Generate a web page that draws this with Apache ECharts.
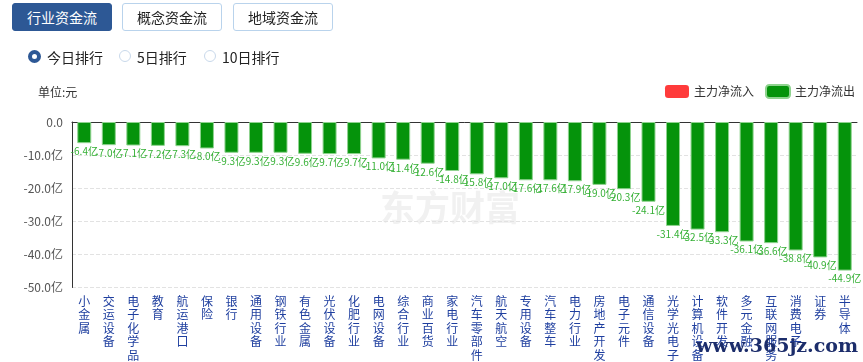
<!DOCTYPE html>
<html>
<head>
<meta charset="utf-8">
<script src="https://cdn.jsdelivr.net/npm/echarts@6/dist/echarts.min.js"></script>
<style>
  html, body { margin:0; padding:0; background:#fff; }
  body { width:863px; height:362px; position:relative; overflow:hidden; font-family:"Noto Sans CJK SC","Noto Sans",sans-serif; }
  #chart { position:absolute; left:0; top:0; width:863px; height:362px; }
  .btn { position:absolute; top:3px; height:26px; line-height:26px; width:98px; text-align:center; font-size:14px; color:#222; border:1px solid #b9d3ec; border-radius:3px; background:#fff; box-sizing:content-box; z-index:2; }
  .btn.active { background:#2d5895; color:#fff; border-color:#2d5895; }
  .radio { position:absolute; top:49px; height:16px; line-height:16px; font-size:14px; color:#222; z-index:2; }
  .dot { position:absolute; top:1px; width:10px; height:10px; border-radius:50%; border:1px solid #c8d8ea; background:#fff; }
  .dot.on { border:4px solid #2d5895; width:5px; height:5px; background:#fff; top:1px; }
</style>
</head>
<body>
<div id="chart"></div>
<div class="btn active" style="left:12px;">行业资金流</div>
<div class="btn" style="left:122px;">概念资金流</div>
<div class="btn" style="left:233px;">地域资金流</div>
<div class="radio" style="left:28px;"><span class="dot on" style="left:0;"></span><span style="position:absolute;left:19px;white-space:nowrap;">今日排行</span></div>
<div class="radio" style="left:119px;"><span class="dot" style="left:0;"></span><span style="position:absolute;left:18px;white-space:nowrap;">5日排行</span></div>
<div class="radio" style="left:204px;"><span class="dot" style="left:0;"></span><span style="position:absolute;left:18px;white-space:nowrap;">10日排行</span></div>
<script>
const categories = ['小金属','交运设备','电子化学品','教育','航运港口','保险','银行','通用设备','钢铁行业','有色金属','光伏设备','化肥行业','电网设备','综合行业','商业百货','家电行业','汽车零部件','航天航空','专用设备','汽车整车','电力行业','房地产开发','电子元件','通信设备','光学光电子','计算机设备','软件开发','多元金融','互联网服务','消费电子','证券','半导体'];
const outflow = [-6.4,-7.0,-7.1,-7.2,-7.3,-8.0,-9.3,-9.3,-9.3,-9.6,-9.7,-9.7,-11.0,-11.4,-12.6,-14.8,-15.8,-17.0,-17.6,-17.6,-17.9,-19.0,-20.3,-24.1,-31.4,-32.5,-33.3,-36.1,-36.6,-38.8,-40.9,-44.9];
const inflow = categories.map(() => null);
const seriesNames = ['主力净流入','主力净流出'];
const yTicks = { min:-50, max:0, interval:10 };

const chart = echarts.init(document.getElementById('chart'));
const font = '"Noto Sans CJK SC","Noto Sans",sans-serif';
chart.setOption({
  animation:false,
  textStyle:{ fontFamily:font },
  grid:{ left:72, right:6, top:122, bottom:73, containLabel:false },
  legend:{
    right:3, top:79, itemWidth:24, itemHeight:13, itemGap:11, icon:'roundRect',
    textStyle:{ fontSize:12, color:'#333', fontFamily:font },
    data:seriesNames
  },
  graphic:[
    { type:'text', left:38, top:86, z:1, style:{ text:'单位:元', fontSize:12, fill:'#333', fontFamily:font } },
    { type:'text', left:380, top:190, z:0, silent:true, style:{ text:'东方财富', fontSize:35, fontWeight:'bold', fill:'#f1f1f1', fontFamily:font } },
    { type:'text', right:5, top:338, z:100, style:{ text:'www.365jz.com', fontSize:19, fontWeight:'bold', fill:'#1c2d6b', fontFamily:'"DejaVu Serif",serif' } }
  ],
  xAxis:[
    { type:'category', data:categories, position:'bottom',
      axisLine:{ onZero:true, lineStyle:{ color:'#333', width:1 } },
      axisTick:{ show:false }, axisLabel:{ show:false } },
    { type:'category', data:categories, position:'bottom',
      axisLine:{ show:false, onZero:false }, axisTick:{ show:false },
      axisLabel:{ interval:0, margin:7, color:'#1f3f9f', fontSize:12, lineHeight:13.5, fontFamily:font,
        formatter:v => v.split('').join('\n'), verticalAlign:'top' } }
  ],
  yAxis:{
    type:'value', min:yTicks.min, max:yTicks.max, interval:yTicks.interval,
    axisLine:{ show:true, lineStyle:{ color:'#333' } },
    axisTick:{ show:false },
    axisLabel:{ color:'#555', fontSize:12, margin:9, fontFamily:font,
      formatter:v => v === 0 ? '0.0' : v.toFixed(1) + '亿' },
    splitLine:{ lineStyle:{ type:'dashed', color:'#e2e2e2' } }
  },
  series:[
    { name:seriesNames[0], type:'bar', stack:'s', data:inflow, barWidth:14,
      itemStyle:{ color:'#ff3b3b' } },
    { name:seriesNames[1], type:'bar', stack:'s', data:outflow, barWidth:14,
      itemStyle:{ color:'#05930b', borderColor:'#8fd38f', borderWidth:1 },
      label:{ show:true, position:'bottom', distance:3, fontSize:10, color:'#35b035',
        fontFamily:font, formatter:p => p.value.toFixed(1) + '亿' } }
  ]
});
</script>
</body>
</html>
